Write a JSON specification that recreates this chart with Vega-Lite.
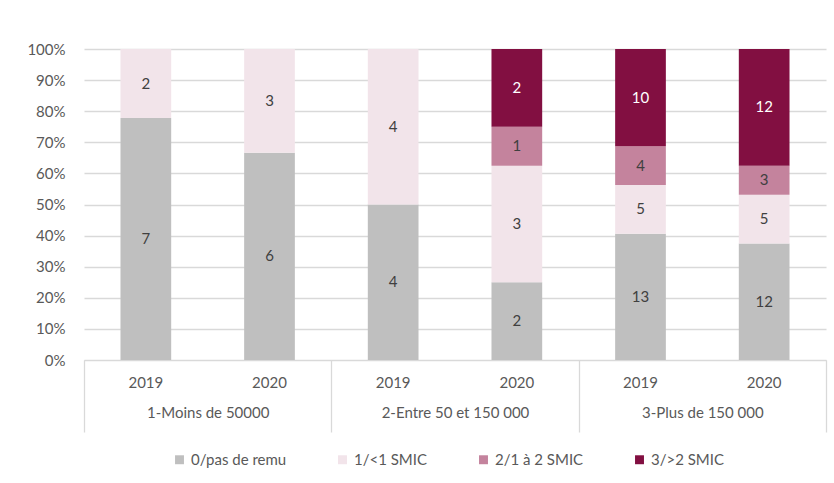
{
  "$schema": "https://vega.github.io/schema/vega-lite/v6.json",
  "width": 742,
  "height": 311,
  "autosize": "none",
  "padding": {"left": 84, "top": 49, "right": 8, "bottom": 123},
  "background": "white",
  "config": {
    "font": "Lato",
    "view": {"stroke": null},
    "axis": {"labelFont": "Lato", "labelFontSize": 15, "labelColor": "#595959"},
    "legend": {"labelFont": "Lato", "labelFontSize": 15, "labelColor": "#595959"}
  },
  "data": {
    "values": [
      {"group": "1-Moins de 50000", "year": "2019", "key": "1|2019", "cat": "0/pas de remu", "n": 7},
      {"group": "1-Moins de 50000", "year": "2019", "key": "1|2019", "cat": "1/<1 SMIC", "n": 2},
      {"group": "1-Moins de 50000", "year": "2020", "key": "1|2020", "cat": "0/pas de remu", "n": 6},
      {"group": "1-Moins de 50000", "year": "2020", "key": "1|2020", "cat": "1/<1 SMIC", "n": 3},
      {"group": "2-Entre 50 et 150 000", "year": "2019", "key": "2|2019", "cat": "0/pas de remu", "n": 4},
      {"group": "2-Entre 50 et 150 000", "year": "2019", "key": "2|2019", "cat": "1/<1 SMIC", "n": 4},
      {"group": "2-Entre 50 et 150 000", "year": "2020", "key": "2|2020", "cat": "0/pas de remu", "n": 2},
      {"group": "2-Entre 50 et 150 000", "year": "2020", "key": "2|2020", "cat": "1/<1 SMIC", "n": 3},
      {"group": "2-Entre 50 et 150 000", "year": "2020", "key": "2|2020", "cat": "2/1 à 2 SMIC", "n": 1},
      {"group": "2-Entre 50 et 150 000", "year": "2020", "key": "2|2020", "cat": "3/>2 SMIC", "n": 2},
      {"group": "3-Plus de 150 000", "year": "2019", "key": "3|2019", "cat": "0/pas de remu", "n": 13},
      {"group": "3-Plus de 150 000", "year": "2019", "key": "3|2019", "cat": "1/<1 SMIC", "n": 5},
      {"group": "3-Plus de 150 000", "year": "2019", "key": "3|2019", "cat": "2/1 à 2 SMIC", "n": 4},
      {"group": "3-Plus de 150 000", "year": "2019", "key": "3|2019", "cat": "3/>2 SMIC", "n": 10},
      {"group": "3-Plus de 150 000", "year": "2020", "key": "3|2020", "cat": "0/pas de remu", "n": 12},
      {"group": "3-Plus de 150 000", "year": "2020", "key": "3|2020", "cat": "1/<1 SMIC", "n": 5},
      {"group": "3-Plus de 150 000", "year": "2020", "key": "3|2020", "cat": "2/1 à 2 SMIC", "n": 3},
      {"group": "3-Plus de 150 000", "year": "2020", "key": "3|2020", "cat": "3/>2 SMIC", "n": 12}
    ]
  },
  "layer": [
    {
      "layer": [
        {
          "mark": {"type": "bar", "width": {"band": 0.41}},
          "encoding": {
            "x": {
              "field": "key", "type": "nominal", "sort": null,
              "scale": {"domain": ["1|2019", "1|2020", "2|2019", "2|2020", "3|2019", "3|2020"], "paddingInner": 0, "paddingOuter": 0},
              "axis": {"title": null, "labelExpr": "split(datum.value, '|')[1]", "labelAngle": 0, "ticks": false, "tickSize": 0, "labelPadding": 15, "domainColor": "#D9D9D9", "domainWidth": 1, "grid": false}
            },
            "y": {
              "field": "n", "type": "quantitative", "stack": "normalize",
              "scale": {"domain": [0, 1], "nice": false},
              "axis": {"title": null, "format": ".0%", "values": [0, 0.1, 0.2, 0.3, 0.4, 0.5, 0.6, 0.7, 0.8, 0.9, 1], "labelOverlap": false, "domain": false, "ticks": false, "labelPadding": 19, "gridColor": "#D9D9D9", "gridWidth": 1.3}
            },
            "order": {"field": "cat", "type": "nominal", "sort": "ascending"},
            "color": {
              "field": "cat", "type": "nominal",
              "scale": {"domain": ["0/pas de remu", "1/<1 SMIC", "2/1 à 2 SMIC", "3/>2 SMIC"], "range": ["#BFBFBF", "#F2E4EA", "#C4839D", "#820F41"]},
              "legend": {"title": null, "orient": "none", "legendX": 88, "legendY": 403, "direction": "horizontal", "symbolType": "square", "symbolSize": 80, "symbolStrokeWidth": 0, "columnPadding": 48, "labelOffset": 4}
            }
          }
        },
        {
          "mark": {"type": "text", "fontSize": 15, "font": "Lato"},
          "encoding": {
            "x": {"field": "key", "type": "nominal", "sort": null},
            "y": {
              "field": "n", "type": "quantitative", "stack": "normalize", "bandPosition": 0.5,
              "axis": {"title": null, "format": ".0%", "values": [0, 0.1, 0.2, 0.3, 0.4, 0.5, 0.6, 0.7, 0.8, 0.9, 1], "labelOverlap": false, "domain": false, "ticks": false, "labelPadding": 19, "gridColor": "#D9D9D9", "gridWidth": 1.3}
            },
            "detail": {"field": "cat", "type": "nominal"},
            "order": {"field": "cat", "type": "nominal", "sort": "ascending"},
            "text": {"field": "n", "type": "quantitative"},
            "color": {"condition": {"test": "datum.cat === '3/>2 SMIC'", "value": "white"}, "value": "#404040"}
          }
        }
      ]
    },
    {
      "mark": {"type": "rule", "opacity": 0},
      "encoding": {
        "x": {
          "field": "group", "type": "nominal", "sort": null,
          "scale": {"paddingInner": 0, "paddingOuter": 0},
          "axis": {"title": null, "orient": "bottom", "labelAngle": 0, "tickBand": "extent", "tickSize": 72, "tickColor": "#D9D9D9", "tickWidth": 1.3, "domain": false, "labelPadding": -27, "grid": false}
        }
      }
    }
  ],
  "resolve": {"scale": {"x": "independent"}, "axis": {"x": "independent"}}
}
